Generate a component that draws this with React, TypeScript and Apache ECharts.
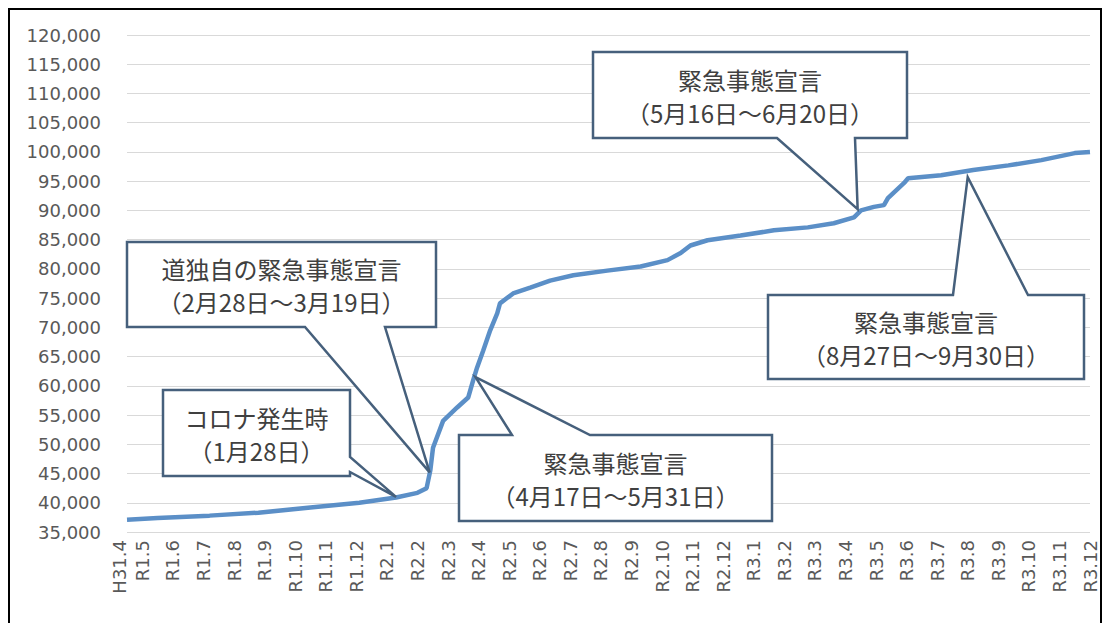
import React, { useEffect, useRef } from 'react';
import * as echarts from 'echarts';

// Month labels on the x axis (H31.4 ... R3.12)
const monthLabels = [
  'H31.4', 'R1.5', 'R1.6', 'R1.7', 'R1.8', 'R1.9', 'R1.10', 'R1.11', 'R1.12',
  'R2.1', 'R2.2', 'R2.3', 'R2.4', 'R2.5', 'R2.6', 'R2.7', 'R2.8', 'R2.9', 'R2.10', 'R2.11', 'R2.12',
  'R3.1', 'R3.2', 'R3.3', 'R3.4', 'R3.5', 'R3.6', 'R3.7', 'R3.8', 'R3.9', 'R3.10', 'R3.11', 'R3.12',
];

// Position of each reading, in months since H31.4 (fractional = within month)
const monthPos = [
  0.5, 1.5, 3.2, 4.8, 6.5, 8.1, 9.3, 10.0, 10.3, 10.42,
  10.51, 10.84, 11.3, 11.66, 11.82, 11.95, 12.15, 12.38, 12.61, 12.7,
  13.13, 13.69, 14.34, 15.1, 16.21, 17.3, 18.18, 18.61, 18.93, 19.49,
  20.57, 21.66, 22.77, 23.62, 24.28, 24.51, 24.93, 25.26, 25.39, 25.59,
  25.92, 26.05, 27.13, 28.18, 29.33, 30.41, 31.5, 32.0,
];

// Cumulative count at each position
const counts = [
  37100, 37400, 37800, 38300, 39200, 40000, 40900, 41700, 42500, 45500,
  49400, 54000, 56300, 58000, 60900, 63100, 66000, 69500, 72400, 74100,
  75800, 76800, 78000, 78900, 79700, 80400, 81500, 82700, 84000, 84900,
  85700, 86600, 87100, 87800, 88800, 90000, 90600, 90900, 92100, 93100,
  94700, 95500, 96000, 96900, 97700, 98600, 99800, 100000,
];

// Callout texts and the data point each one points at
const calloutTitles = ['コロナ発生時', '道独自の緊急事態宣言', '緊急事態宣言', '緊急事態宣言', '緊急事態宣言'];
const calloutPeriods = ['（1月28日）', '（2月28日～3月19日）', '（4月17日～5月31日）', '（5月16日～6月20日）', '（8月27日～9月30日）'];
const calloutAnchorMonth = [9.3, 10.4, 11.9, 24.4, 28.0];
const calloutAnchorValue = [41000, 45200, 61500, 90200, 95700];

// Callout layout: box [x0, y0, x1, y1], wedge side, wedge base (two positions along that side)
const calloutLayout = [
  { box: [163, 390, 350, 476], side: 'right', base: [457, 472] },
  { box: [127, 242, 436, 327], side: 'bottom', base: [305, 385] },
  { box: [459, 435, 772, 521], side: 'top', base: [512, 590] },
  { box: [593, 52, 907, 138], side: 'bottom', base: [777, 855] },
  { box: [768, 295, 1084, 379], side: 'top', base: [953, 1028] },
];

const AXIS_FONT = 'DejaVu Sans';
const AXIS_SIZE = 18;

function calloutPoints(layout: any, tip: number[]) {
  const [x0, y0, x1, y1] = layout.box;
  const [a, b] = layout.base;
  if (layout.side === 'top') {
    return [[x0, y0], [a, y0], tip, [b, y0], [x1, y0], [x1, y1], [x0, y1]];
  }
  if (layout.side === 'bottom') {
    return [[x0, y0], [x1, y0], [x1, y1], [b, y1], tip, [a, y1], [x0, y1]];
  }
  return [[x0, y0], [x1, y0], [x1, a], tip, [x1, b], [x1, y1], [x0, y1]];
}

export default function App() {
  const ref = useRef<HTMLDivElement>(null);

  useEffect(() => {
    const chart = echarts.init(ref.current as HTMLDivElement, null, { renderer: 'svg' });
    const lineData = monthPos.map((m, i) => [m, counts[i]]);
    // first label (H31.4) sits just left of the plot start; drawn separately below
    const labelPositions = monthLabels.map((_, i) => i).slice(1);

    chart.setOption({
      animation: false,
      backgroundColor: '#ffffff',
      grid: { left: 127, right: 19, top: 35, bottom: 91, outerBoundsMode: 'none' },
      xAxis: {
        type: 'value',
        min: 0.5,
        max: 32,
        axisLine: { show: false },
        axisTick: { show: false },
        splitLine: { show: false },
        axisLabel: {
          customValues: labelPositions,
          showMinLabel: true,
          showMaxLabel: true,
          hideOverlap: false,
          rotate: 90,
          margin: 8,
          color: '#595959',
          fontSize: AXIS_SIZE,
          fontFamily: AXIS_FONT,
          formatter: (v: number) => monthLabels[Math.round(v)] ?? '',
        },
      },
      yAxis: {
        type: 'value',
        min: 35000,
        max: 120000,
        interval: 5000,
        axisLine: { show: false },
        axisTick: { show: false },
        splitLine: { lineStyle: { color: '#d9d9d9', width: 1 } },
        axisLabel: {
          margin: 26,
          color: '#595959',
          fontSize: AXIS_SIZE,
          fontFamily: AXIS_FONT,
          formatter: (v: number) => v.toLocaleString('en-US'),
        },
      },
      series: [
        {
          type: 'line',
          data: lineData,
          showSymbol: false,
          symbol: 'none',
          lineStyle: { color: '#5b8fc7', width: 4.5 },
          z: 2,
        },
      ],
    });

    const graphics: any[] = [];
    calloutLayout.forEach((layout, i) => {
      const tip = chart.convertToPixel({ seriesIndex: 0 }, [calloutAnchorMonth[i], calloutAnchorValue[i]]) as number[];
      const [x0, y0, x1, y1] = layout.box;
      const cx = (x0 + x1) / 2;
      const cy = (y0 + y1) / 2;
      graphics.push({
        type: 'polygon',
        z: 100,
        shape: { points: calloutPoints(layout, tip) },
        style: { fill: '#ffffff', stroke: '#46607c', lineWidth: 2.5, lineJoin: 'miter' },
      });
      graphics.push({
        type: 'text',
        z: 101,
        x: cx,
        y: cy - 16,
        style: {
          text: calloutTitles[i],
          font: '24px "Noto Sans CJK JP"',
          fill: '#404040',
          align: 'center',
          verticalAlign: 'middle',
        },
      });
      graphics.push({
        type: 'text',
        z: 101,
        x: cx,
        y: cy + 17,
        style: {
          text: calloutPeriods[i],
          font: '24px "Noto Sans CJK JP"',
          fill: '#404040',
          align: 'center',
          verticalAlign: 'middle',
        },
      });
    });

    // first month label, placed a quarter month before the plot start
    const firstX = chart.convertToPixel({ xAxisIndex: 0 }, 0.25) as number;
    const axisY = chart.convertToPixel({ yAxisIndex: 0 }, 35000) as number;
    graphics.push({
      type: 'text',
      z: 50,
      x: firstX,
      y: axisY + 8,
      rotation: Math.PI / 2,
      style: {
        text: monthLabels[0],
        font: `${AXIS_SIZE}px "${AXIS_FONT}"`,
        fill: '#595959',
        align: 'right',
        verticalAlign: 'middle',
      },
    });

    // outer frame
    graphics.push({
      type: 'rect',
      z: 0,
      shape: { x: 9, y: 9, width: 1092, height: 640 },
      style: { fill: 'none', stroke: '#000000', lineWidth: 2 },
    });

    chart.setOption({ graphic: graphics });

    return () => chart.dispose();
  }, []);

  return <div ref={ref} style={{ position: 'fixed', left: 0, top: 0, width: 1109, height: 623 }} />;
}
